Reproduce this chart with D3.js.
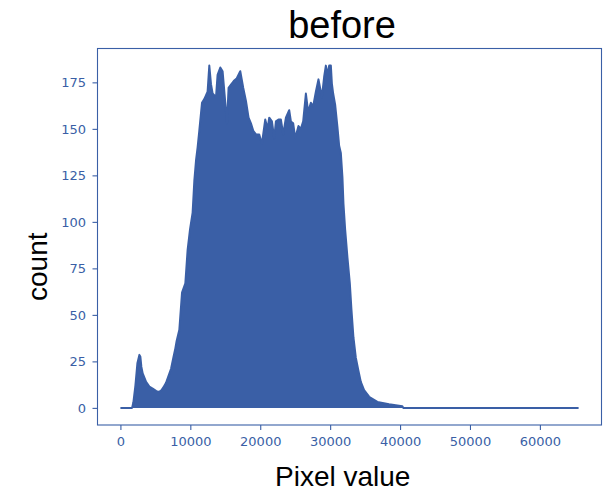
<!DOCTYPE html>
<html>
<head>
<meta charset="utf-8">
<script src="https://cdnjs.cloudflare.com/ajax/libs/d3/7.8.5/d3.min.js"></script>
<style>
  body { margin: 0; background: #fff; }
  #canvas { width: 613px; height: 492px; }
</style>
</head>
<body>
<div id="canvas"></div>
<script>
const pixelValues = [0, 1671, 1857, 2143, 2429, 2714, 2857, 3000, 3186, 3671, 4143, 4614, 5143, 5571, 5857,
  6143, 6529, 6857, 7243, 7571, 7857, 8043, 8429, 8814, 9286, 9614, 9957, 10329, 10571, 10814,
  11043, 11286, 11671, 12000, 12471, 12714, 12957, 13186, 13671, 13900, 14286, 14614, 14957, 15243,
  15471, 15957, 16286, 16614, 17143, 17571, 17957, 18329, 18671, 19000, 19386, 19857, 20243, 20714,
  21043, 21286, 21671, 22000, 22243, 22614, 22957, 23286, 23671, 24143, 24386, 24714, 25000, 25471,
  25814, 26143, 26529, 26857, 27243, 27571, 27957, 28329, 28814, 29143, 29386, 29614, 29857, 30100,
  30243, 30429, 30714, 31043, 31286, 31529, 31757, 31900, 32143, 32471, 32814, 33043, 33329, 33671,
  34043, 34386, 34857, 35571, 36757, 38429, 40329, 40470, 65535];
const counts = [0, 0, 3, 12, 24, 28.5, 27.5, 22, 18.5, 14, 11.5, 10.4, 9, 8.6, 9.5,
  11, 13.5, 17, 21, 27, 32, 36, 42, 62, 67, 85, 96, 105, 122, 133,
  140, 149, 164, 166, 170, 184, 174, 169, 167, 179, 183, 181, 166, 153,
  172, 174.5, 176, 177, 181, 172, 165, 156, 153, 149, 147, 147, 142, 155,
  150, 156, 154, 145, 154, 155, 155, 147, 156, 160, 154, 153, 145, 151.5,
  150, 154, 169, 159, 164, 162, 170, 176.6, 167, 178, 184, 179, 184, 184,
  174.5, 169, 163, 151, 141, 137, 124, 110, 96, 81, 67, 53, 38, 27,
  20, 14, 9.5, 6, 3.2, 2, 0.9, 0, 0];
const xTicks = [0, 10000, 20000, 30000, 40000, 50000, 60000];
const yTicks = [0, 25, 50, 75, 100, 125, 150, 175];

const w = 613;
const h = 492;
const blue = "#3a5fa6";
const margin = { top: 48.5, left: 97.5, right: 11.5, bottom: 67 };
const width = w - (margin.left + margin.right);
const height = h - (margin.top + margin.bottom);

const data = pixelValues.map((p, i) => ({ x: p, y: counts[i] }));

const svg = d3.select("#canvas")
              .append("svg")
              .attr("width", w)
              .attr("height", h)
              .style("font-family", "'DejaVu Sans', sans-serif");

const chart = svg.append("g")
                 .attr("transform", "translate(" + margin.left + "," + margin.top + ")");

const xMax = d3.max(pixelValues);
const yMax = d3.max(counts);

const x = d3.scaleLinear()
            .domain([-0.05 * xMax, 1.05 * xMax])
            .range([0, width]);

const y = d3.scaleLinear()
            .domain([-0.05 * yMax, 1.05 * yMax])
            .range([height, 0]);

const area = d3.area()
               .x(d => x(d.x))
               .y0(y(0))
               .y1(d => y(d.y));

const line = d3.line()
               .x(d => x(d.x))
               .y(d => y(d.y));

chart.append("path")
     .datum(data)
     .attr("d", area)
     .attr("fill", blue);

chart.append("path")
     .datum(data)
     .attr("d", line)
     .attr("fill", "none")
     .attr("stroke", blue)
     .attr("stroke-width", 2)
     .attr("stroke-linejoin", "round");

const xAxis = d3.axisBottom(x)
                .tickValues(xTicks)
                .tickFormat(d3.format("d"))
                .tickSize(5)
                .tickPadding(7);

const yAxis = d3.axisLeft(y)
                .tickValues(yTicks)
                .tickFormat(d3.format("d"))
                .tickSize(5)
                .tickPadding(6.5);

function styleAxis(g){
  g.select(".domain").remove();
  g.selectAll("line").attr("stroke", blue).attr("stroke-width", 1.1);
  g.selectAll("text").attr("fill", blue).style("font-size", "13px")
   .style("font-family", "'DejaVu Sans', sans-serif");
}

chart.append("g")
     .attr("transform", "translate(0," + height + ")")
     .call(xAxis)
     .call(styleAxis);

chart.append("g")
     .call(yAxis)
     .call(styleAxis);

chart.append("rect")
     .attr("x", 0)
     .attr("y", 0)
     .attr("width", width)
     .attr("height", height)
     .attr("fill", "none")
     .attr("stroke", blue)
     .attr("stroke-width", 1.1);

svg.append("text")
   .attr("x", 342)
   .attr("y", 37.5)
   .attr("text-anchor", "middle")
   .style("font-family", "'Liberation Sans', Arial, sans-serif")
   .style("font-size", "38px")
   .text("before");

svg.append("text")
   .attr("x", 342.7)
   .attr("y", 486)
   .attr("text-anchor", "middle")
   .style("font-family", "'Liberation Sans', Arial, sans-serif")
   .style("font-size", "28px")
   .text("Pixel value");

svg.append("text")
   .attr("transform", "translate(46.5,266.7) rotate(-90)")
   .attr("text-anchor", "middle")
   .style("font-family", "'Liberation Sans', Arial, sans-serif")
   .style("font-size", "28px")
   .text("count");
</script>
</body>
</html>
